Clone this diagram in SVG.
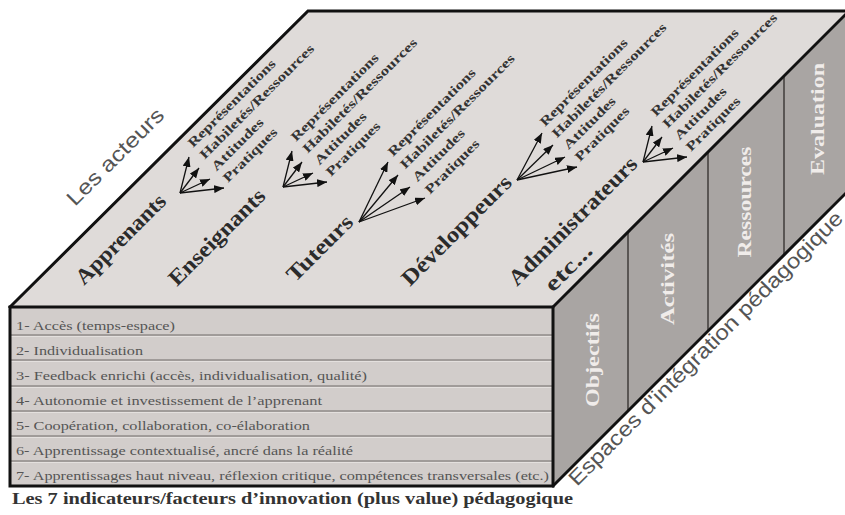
<svg xmlns="http://www.w3.org/2000/svg" width="845" height="515" viewBox="0 0 845 515">
<style>
.edge{stroke:#111;stroke-width:3;fill:none;stroke-linejoin:miter;stroke-linecap:square}
.name{font-family:"Liberation Serif","Times New Roman",serif;font-weight:bold;font-size:22px;fill:#2b2b2b}
.lbl{font-family:"Liberation Serif","Times New Roman",serif;font-weight:bold;font-size:13px;fill:#333}
.row{font-family:"Liberation Serif","Times New Roman",serif;font-size:12.5px;fill:#555}
.col{font-family:"Liberation Serif","Times New Roman",serif;font-weight:bold;font-size:19px;fill:#f0ecea}
.side{font-family:"Liberation Sans",Arial,sans-serif;font-size:21px;fill:#555}
.cap{font-family:"Liberation Serif","Times New Roman",serif;font-weight:bold;font-size:16px;fill:#333}
.arr{stroke:#111;stroke-width:1.3;fill:none;marker-end:url(#ah)}
.sep{stroke:#8f8a88;stroke-width:1.3}
.hl{stroke:#e4e0de;stroke-width:1}
.div{stroke:#5a5654;stroke-width:2}
</style>
<defs>
<marker id="ah" markerUnits="userSpaceOnUse" markerWidth="10" markerHeight="8" refX="10" refY="4" orient="auto">
<path d="M0,0 L10,4 L0,8 z" fill="#111"/>
</marker>
</defs>
<rect width="845" height="515" fill="#fff"/>

<g id="top-face">
<polygon points="308,11 850,11 553,307 10,307" fill="#dfdbd9"/>
</g>

<g id="right-face">
<polygon points="553,307 850,10 850,189 553,486" fill="#a9a5a3"/>
<line class="div" x1="628" y1="232" x2="628" y2="411"/>
<line class="div" x1="708" y1="152" x2="708" y2="331"/>
<line class="div" x1="784" y1="76" x2="784" y2="255"/>
<text class="col" transform="translate(599,360) rotate(-90)" text-anchor="middle" textLength="94" lengthAdjust="spacingAndGlyphs">Objectifs</text>
<text class="col" transform="translate(674,279) rotate(-90)" text-anchor="middle" textLength="92" lengthAdjust="spacingAndGlyphs">Activités</text>
<text class="col" transform="translate(751,202) rotate(-90)" text-anchor="middle" textLength="111" lengthAdjust="spacingAndGlyphs">Ressources</text>
<text class="col" transform="translate(824,119) rotate(-90)" text-anchor="middle" textLength="112" lengthAdjust="spacingAndGlyphs">Evaluation</text>
</g>

<g id="front-face">
<rect x="10" y="307" width="543" height="179" fill="#d2cdcb"/>
<line class="sep" x1="11" y1="335" x2="552" y2="335"/><line class="hl" x1="11" y1="336.5" x2="552" y2="336.5"/>
<line class="sep" x1="11" y1="360" x2="552" y2="360"/><line class="hl" x1="11" y1="361.5" x2="552" y2="361.5"/>
<line class="sep" x1="11" y1="386" x2="552" y2="386"/><line class="hl" x1="11" y1="387.5" x2="552" y2="387.5"/>
<line class="sep" x1="11" y1="411" x2="552" y2="411"/><line class="hl" x1="11" y1="412.5" x2="552" y2="412.5"/>
<line class="sep" x1="11" y1="436" x2="552" y2="436"/><line class="hl" x1="11" y1="437.5" x2="552" y2="437.5"/>
<line class="sep" x1="11" y1="461" x2="552" y2="461"/><line class="hl" x1="11" y1="462.5" x2="552" y2="462.5"/>
<text class="row" x="16" y="330" textLength="159" lengthAdjust="spacingAndGlyphs">1- Accès (temps-espace)</text>
<text class="row" x="16" y="355" textLength="127" lengthAdjust="spacingAndGlyphs">2- Individualisation</text>
<text class="row" x="16" y="380" textLength="351" lengthAdjust="spacingAndGlyphs">3- Feedback enrichi (accès, individualisation, qualité)</text>
<text class="row" x="16" y="405" textLength="306" lengthAdjust="spacingAndGlyphs">4- Autonomie et investissement de l’apprenant</text>
<text class="row" x="16" y="430" textLength="294" lengthAdjust="spacingAndGlyphs">5- Coopération, collaboration, co-élaboration</text>
<text class="row" x="16" y="455" textLength="337" lengthAdjust="spacingAndGlyphs">6- Apprentissage contextualisé, ancré dans la réalité</text>
<text class="row" x="16" y="480" textLength="533" lengthAdjust="spacingAndGlyphs">7- Apprentissages haut niveau, réflexion critique, compétences transversales (etc.)</text>
</g>

<g id="edges">
<polyline class="edge" points="10,307 308,11 850,11"/>
<line class="edge" x1="553" y1="307" x2="850" y2="10"/>
<line class="edge" x1="553" y1="486" x2="850" y2="189"/>
<rect class="edge" x="10" y="307" width="543" height="179"/>
</g>

<g id="axis-labels">
<text class="side" transform="translate(75,207) rotate(-45)" textLength="128" lengthAdjust="spacingAndGlyphs">Les acteurs</text>
<text class="side" transform="translate(577,487) rotate(-45)" textLength="378" lengthAdjust="spacingAndGlyphs">Espaces d'intégration pédagogique</text>
<text class="cap" x="12" y="504" textLength="561" lengthAdjust="spacingAndGlyphs">Les 7 indicateurs/facteurs d’innovation (plus value) pédagogique</text>
</g>

<g id="actor-apprenants">
<text class="name" transform="translate(84,286) rotate(-45)" textLength="118" lengthAdjust="spacingAndGlyphs">Apprenants</text>
<text class="lbl" transform="translate(193,148) rotate(-45)" textLength="118" lengthAdjust="spacingAndGlyphs">Représentations</text>
<text class="lbl" transform="translate(204.7,159.7) rotate(-45)" textLength="156" lengthAdjust="spacingAndGlyphs">Habiletés/Ressources</text>
<text class="lbl" transform="translate(216.4,171.4) rotate(-45)" textLength="68" lengthAdjust="spacingAndGlyphs">Attitudes</text>
<text class="lbl" transform="translate(228.1,183.1) rotate(-45)" textLength="71" lengthAdjust="spacingAndGlyphs">Pratiques</text>
</g>

<g id="actor-enseignants">
<text class="name" transform="translate(177,287) rotate(-45)" textLength="127" lengthAdjust="spacingAndGlyphs">Enseignants</text>
<text class="lbl" transform="translate(296,142) rotate(-45)" textLength="118" lengthAdjust="spacingAndGlyphs">Représentations</text>
<text class="lbl" transform="translate(307.7,153.7) rotate(-45)" textLength="156" lengthAdjust="spacingAndGlyphs">Habiletés/Ressources</text>
<text class="lbl" transform="translate(319.4,165.4) rotate(-45)" textLength="68" lengthAdjust="spacingAndGlyphs">Attitudes</text>
<text class="lbl" transform="translate(331.1,177.1) rotate(-45)" textLength="71" lengthAdjust="spacingAndGlyphs">Pratiques</text>
</g>

<g id="actor-tuteurs">
<text class="name" transform="translate(295,283) rotate(-45)" textLength="84" lengthAdjust="spacingAndGlyphs">Tuteurs</text>
<text class="lbl" transform="translate(393,157) rotate(-45)" textLength="118" lengthAdjust="spacingAndGlyphs">Représentations</text>
<text class="lbl" transform="translate(405.3,169.6) rotate(-45)" textLength="156" lengthAdjust="spacingAndGlyphs">Habiletés/Ressources</text>
<text class="lbl" transform="translate(417.6,182.2) rotate(-45)" textLength="68" lengthAdjust="spacingAndGlyphs">Attitudes</text>
<text class="lbl" transform="translate(430,194.8) rotate(-45)" textLength="71" lengthAdjust="spacingAndGlyphs">Pratiques</text>
</g>

<g id="actor-developpeurs">
<text class="name" transform="translate(410,287) rotate(-45)" textLength="146" lengthAdjust="spacingAndGlyphs">Développeurs</text>
<text class="lbl" transform="translate(545,127) rotate(-45)" textLength="118" lengthAdjust="spacingAndGlyphs">Représentations</text>
<text class="lbl" transform="translate(557,138.5) rotate(-45)" textLength="156" lengthAdjust="spacingAndGlyphs">Habiletés/Ressources</text>
<text class="lbl" transform="translate(568.5,150) rotate(-45)" textLength="68" lengthAdjust="spacingAndGlyphs">Attitudes</text>
<text class="lbl" transform="translate(580,162) rotate(-45)" textLength="71" lengthAdjust="spacingAndGlyphs">Pratiques</text>
</g>

<g id="actor-administrateurs">
<text class="name" transform="translate(517,287) rotate(-45)" textLength="172" lengthAdjust="spacingAndGlyphs">Administrateurs</text>
<text class="lbl" transform="translate(656,117) rotate(-45)" textLength="118" lengthAdjust="spacingAndGlyphs">Représentations</text>
<text class="lbl" transform="translate(667.7,128.7) rotate(-45)" textLength="156" lengthAdjust="spacingAndGlyphs">Habiletés/Ressources</text>
<text class="lbl" transform="translate(679.4,140.4) rotate(-45)" textLength="68" lengthAdjust="spacingAndGlyphs">Attitudes</text>
<text class="lbl" transform="translate(691.1,152.1) rotate(-45)" textLength="71" lengthAdjust="spacingAndGlyphs">Pratiques</text>
</g>

<g id="actor-etc">
<text class="name" transform="translate(553,293) rotate(-45)" textLength="58" lengthAdjust="spacingAndGlyphs">etc...</text>
</g>

<g id="connectors">
<line class="arr" x1="180" y1="193" x2="189" y2="157"/>
<line class="arr" x1="180" y1="193" x2="199" y2="168"/>
<line class="arr" x1="180" y1="193" x2="210" y2="179"/>
<line class="arr" x1="180" y1="193" x2="224" y2="188"/>
<line class="arr" x1="283" y1="187" x2="292" y2="151"/>
<line class="arr" x1="283" y1="187" x2="302" y2="162"/>
<line class="arr" x1="283" y1="187" x2="313" y2="173"/>
<line class="arr" x1="283" y1="187" x2="327" y2="182"/>
<line class="arr" x1="359" y1="222" x2="388" y2="162"/>
<line class="arr" x1="359" y1="222" x2="398" y2="175"/>
<line class="arr" x1="359" y1="222" x2="410" y2="187"/>
<line class="arr" x1="359" y1="222" x2="425" y2="198"/>
<line class="arr" x1="517" y1="180" x2="542" y2="133"/>
<line class="arr" x1="517" y1="180" x2="553" y2="145"/>
<line class="arr" x1="517" y1="180" x2="565" y2="157"/>
<line class="arr" x1="517" y1="180" x2="577" y2="167"/>
<line class="arr" x1="643" y1="162" x2="652" y2="126"/>
<line class="arr" x1="643" y1="162" x2="662" y2="137"/>
<line class="arr" x1="643" y1="162" x2="673" y2="148"/>
<line class="arr" x1="643" y1="162" x2="687" y2="157"/>
</g>
</svg>
